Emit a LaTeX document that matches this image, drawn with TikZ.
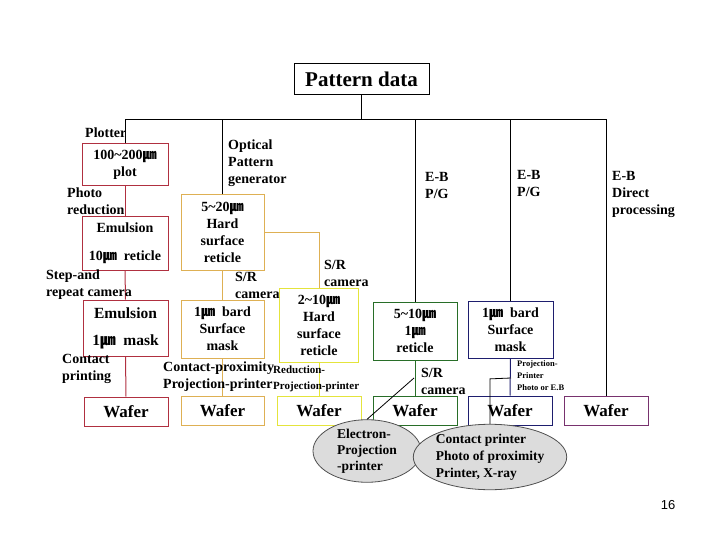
\documentclass[tikz,border=0pt]{standalone}
\usepackage{fontspec}
\setmainfont{Liberation Serif}
\newfontfamily\cjk{Noto Sans CJK KR}
\newfontfamily\pagefont{Liberation Sans}
\usetikzlibrary{shapes.geometric}
\newcommand{\um}{{\cjk ㎛}}
\definecolor{cred}{RGB}{176,48,64}
\definecolor{corange}{RGB}{222,176,84}
\definecolor{cyellow}{RGB}{228,228,60}
\definecolor{cgreen}{RGB}{40,110,40}
\definecolor{cnavy}{RGB}{30,30,110}
\definecolor{cpurple}{RGB}{120,50,110}
\definecolor{cfill}{RGB}{220,220,220}
\definecolor{cedge}{RGB}{80,80,80}
\tikzset{
  box/.style={draw, line width=1pt, rectangle, inner sep=0pt, align=center,
    font=\bfseries\fontsize{14}{17}\selectfont},
  lbl/.style={inner sep=0pt, anchor=west, align=left,
    font=\bfseries\fontsize{14}{17}\selectfont},
  wafer/.style={box, minimum width=84pt, minimum height=29pt,
    font=\bfseries\fontsize{17}{20}\selectfont},
  oval/.style={draw=cedge, fill=cfill, ellipse, line width=0.8pt, inner sep=0pt,
    align=left, font=\bfseries\fontsize{13.5}{16}\selectfont},
  wire/.style={line width=1pt},
}
\begin{document}
\begin{tikzpicture}[x=1pt,y=-1pt]
\useasboundingbox (0,0) rectangle (720,540);
\coordinate (bus) at (0,120);

% Pattern data
\node[box, minimum width=135pt, minimum height=31pt,
  font=\bfseries\fontsize{21}{24}\selectfont] (pd) at (361.5,79.5) {Pattern data};

% column 1 (red)
\node[box, draw=cred, minimum width=86pt, minimum height=42pt] (plot) at (125,165) {100\textasciitilde200\um\\plot};
\node[box, draw=cred, minimum width=86pt, minimum height=53pt] (ret) at (125,243.5) {Emulsion\\[11pt]10\um\ \ reticle};
\node[box, draw=cred, minimum width=85pt, minimum height=56pt,
  font=\bfseries\fontsize{15.5}{19}\selectfont] (mask) at (125.5,328) {Emulsion\\[8pt]1\um\ \ mask};
\node[wafer, draw=cred] (w1) at (126,411.5) {Wafer};

% column 2 (orange)
\node[box, draw=corange, minimum width=83pt, minimum height=75pt] (osr) at (222.5,232.5) {5\textasciitilde20\um\\Hard\\surface\\reticle};
\node[box, draw=corange, minimum width=83pt, minimum height=58pt] (om) at (222.5,329) {1\um\ \ bard\\Surface\\mask};
\node[wafer, draw=corange, minimum width=83pt] (w2) at (222.5,411) {Wafer};

% column 3 (yellow)
\node[box, draw=cyellow, minimum width=79pt, minimum height=74pt] (ysr) at (319,325) {2\textasciitilde10\um\\Hard\\surface\\reticle};
\node[wafer, draw=cyellow] (w3) at (319,411) {Wafer};

% column 4 (green)
\node[box, draw=cgreen, minimum width=84pt, minimum height=58pt] (gr) at (415,331) {5\textasciitilde10\um\\1\um\\reticle};
\node[wafer, draw=cgreen] (w4) at (415,411) {Wafer};

% column 5 (navy)
\node[box, draw=cnavy, minimum width=85pt, minimum height=57pt] (bl) at (510.5,329.5) {1\um\ \ bard\\Surface\\mask};
\node[wafer, draw=cnavy] (w5) at (510,410.5) {Wafer};

% column 6 (purple)
\node[wafer, draw=cpurple] (w6) at (606,410.5) {Wafer};

% bus and drops
\draw[wire] (pd.south) -- (pd.south |- bus);
\draw[wire] (plot.north) -- (plot.north |- bus) -- (w6.north |- bus) -- (w6.north);
\draw[wire] (osr.north) -- (osr.north |- bus);
\draw[wire] (gr.north) -- (gr.north |- bus);
\draw[wire] (bl.north) -- (bl.north |- bus);

% coloured connectors
\draw[wire, cred] (plot.south) -- (ret.north);
\draw[wire, cred] (ret.south) -- (mask.north);
\draw[wire, cred] (mask.south) -- (w1.north);
\draw[wire, corange] (osr.south) -- (om.north);
\draw[wire, corange] (om.south) -- (w2.north);
\draw[wire, corange] (osr.east) -| (ysr.north);
\draw[wire, cyellow] (ysr.south) -- (w3.north);
\draw[wire, cgreen] (gr.south) -- (w4.north);
\draw[wire, cnavy] (bl.south) -- (w5.north);

% labels
\node[lbl] (lplot) at (85,133) {Plotter};
\node[lbl] (lphoto) at (67,201) {Photo\\reduction};
\node[lbl] (lstep) at (46,284.5) {Step-and\\repeat camera};
\node[lbl] (lcont) at (62,369) {Contact\\printing};
\node[lbl] (lopt) at (228,163) {Optical\\Pattern\\generator};
\node[lbl] (lsr1) at (235,285.5) {S/R\\camera};
\node[lbl] (lsr2) at (324,273.5) {S/R\\camera};
\node[lbl] (lcp) at (163,376.5) {Contact-proximity\\Projection-printer};
\node[lbl, font=\bfseries\fontsize{11}{16}\selectfont] (lred) at (273,379) {Reduction-\\Projection-printer};
\node[lbl] (leb1) at (425,185) {E-B\\P/G};
\node[lbl] (lsr3) at (421,381) {S/R\\camera};
\node[lbl] (leb2) at (517,183.5) {E-B\\P/G};
\node[lbl, font=\bfseries\fontsize{8.5}{12}\selectfont] (lproj) at (517,376) {Projection-\\Printer\\Photo or E.B};
\node[lbl] (leb3) at (612,194) {E-B\\Direct\\processing};

% ellipses
\coordinate (gj) at (414,378);
\coordinate (bj) at (511,378);
\node[oval, minimum width=108pt, minimum height=59pt] (e1) at (367,451) {Electron-\\Projection\\-printer};
\node[oval, minimum width=137pt, minimum height=58pt, font=\bfseries\fontsize{13.5}{17}\selectfont] (e2) at (490,457) {Contact printer\\Photo of proximity\\Printer, X-ray};
\draw[line width=0.8pt] (e1.north) -- (gj);
\draw[line width=0.8pt] (e2.north) -- ++(0,-45) -- (bj);

% page number
\node[inner sep=0pt, font=\pagefont\fontsize{13}{15}\selectfont] (pg) at (668,505) {16};
\end{tikzpicture}
\end{document}
